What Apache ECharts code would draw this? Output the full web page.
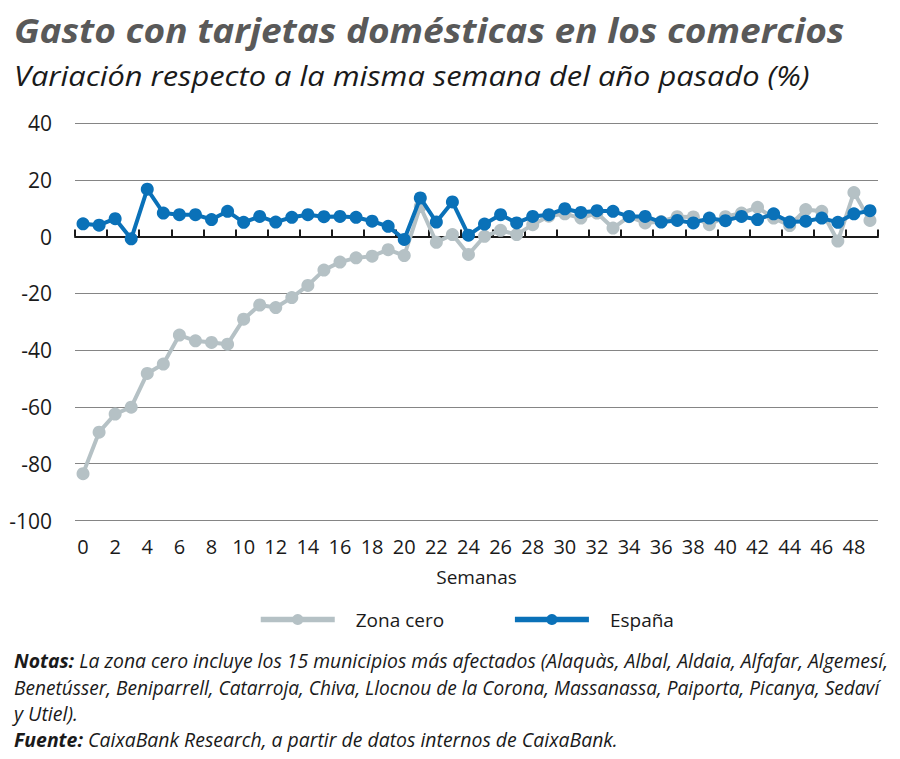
<!DOCTYPE html>
<html>
<head>
<meta charset="utf-8">
<script src="https://cdn.jsdelivr.net/npm/echarts@6/dist/echarts.min.js"></script>
<style>
html,body{margin:0;padding:0;background:#fff;}
#chart{width:900px;height:759px;}
</style>
</head>
<body>
<div id="chart"></div>
<script>
// ---- data ----
const weeks = [];
for (let i = 0; i < 50; i++) weeks.push(String(i));
const zonaCero = [-83.5, -68.9, -62.5, -60.1, -48.2, -44.9, -34.7, -36.7, -37.3, -37.9,
  -29.1, -24.1, -25.0, -21.5, -17.2, -11.8, -9.0, -7.5, -6.9, -4.6,
  -6.7, 10.6, -2.0, 0.7, -6.3, 0.1, 2.2, 0.7, 4.2, 7.2,
  8.0, 6.5, 8.3, 3.0, 7.0, 4.8, 5.3, 7.0, 6.9, 4.2,
  7.0, 8.3, 10.3, 6.5, 3.9, 9.5, 8.9, -1.6, 15.5, 5.7];
const espana = [4.5, 4.0, 6.3, -0.8, 16.7, 8.3, 7.7, 7.7, 6.0, 8.9,
  5.0, 7.1, 5.1, 6.8, 7.7, 7.0, 7.1, 6.8, 5.4, 3.6,
  -1.0, 13.6, 5.1, 12.2, 0.5, 4.4, 7.7, 4.8, 7.1, 7.7,
  9.8, 8.5, 9.1, 8.9, 7.1, 7.1, 5.1, 5.7, 4.8, 6.5,
  5.6, 7.1, 6.0, 8.0, 5.1, 5.4, 6.5, 5.0, 8.0, 9.1];
const seriesNames = ['Zona cero', 'España'];
const titleText = 'Gasto con tarjetas domésticas en los comercios';
const subtitleText = 'Variación respecto a la misma semana del año pasado (%)';
const xAxisName = 'Semanas';
const notes = [
  ['Notas:', 'La zona cero incluye los 15 municipios más afectados (Alaquàs, Albal, Aldaia, Alfafar, Algemesí,'],
  ['', 'Benetússer, Beniparrell, Catarroja, Chiva, Llocnou de la Corona, Massanassa, Paiporta, Picanya, Sedaví'],
  ['', 'y Utiel).'],
  ['Fuente:', 'CaixaBank Research, a partir de datos internos de CaixaBank.']
];

// ---- styling helpers ----
const FF = '"Open Sans", "Noto Sans", sans-serif';
const GRAY = '#b5c1c5';
const BLUE = '#0a71b8';
const cv = document.createElement('canvas').getContext('2d');
function mw(font, text) { cv.font = font; return cv.measureText(text).width; }

function scaledText(text, font, x, y, targetW, fill) {
  const w = mw(font, text);
  return {
    type: 'text', x: x, y: y, scaleX: targetW / w, silent: true,
    style: { text: text, font: font, fill: fill, x: 0, y: 0, verticalAlign: 'middle', align: 'left' }
  };
}

const graphics = [];
graphics.push(scaledText(titleText, 'italic bold 34px ' + FF, 14, 30, 831, '#595959'));
graphics.push(scaledText(subtitleText, 'italic 28px ' + FF, 14, 76, 796, '#1a1a1a'));

const noteFontB = 'italic bold 20px ' + FF;
const noteFont = 'italic 20px ' + FF;
const noteTargets = [874, 866, 64, 604];
const noteY = [660, 687, 713, 739];
notes.forEach((ln, i) => {
  const wb = ln[0] ? mw(noteFontB, ln[0] + ' ') : 0;
  const wr = mw(noteFont, ln[1]);
  const children = [];
  if (ln[0]) children.push({ type: 'text', x: 0, y: 0, style: { text: ln[0], font: noteFontB, fill: '#1a1a1a', verticalAlign: 'middle' } });
  children.push({ type: 'text', x: wb, y: 0, style: { text: ln[1], font: noteFont, fill: '#1a1a1a', verticalAlign: 'middle' } });
  graphics.push({ type: 'group', x: 14, y: noteY[i], scaleX: noteTargets[i] / (wb + wr), silent: true, children: children });
});

const chart = echarts.init(document.getElementById('chart'), null, { renderer: 'svg' });
chart.setOption({
  animation: false,
  backgroundColor: '#fff',
  grid: { left: 75, right: 22, top: 123, bottom: 238.5, containLabel: false },
  legend: {
    data: seriesNames,
    left: 253, top: 605,
    itemWidth: 74, itemHeight: 14, itemGap: 68,
    lineStyle: { width: 5.5 },
    textStyle: { fontFamily: FF, fontSize: 19, color: '#1a1a1a', padding: [0, 0, 0, 16] }
  },
  xAxis: [
    {
      type: 'category', data: weeks, boundaryGap: true,
      axisLine: { onZero: true, lineStyle: { color: '#1a1a1a', width: 2 } },
      axisTick: { show: true, inside: true, length: 7, interval: 1, lineStyle: { color: '#1a1a1a', width: 2 } },
      axisLabel: { show: false }, splitLine: { show: false }
    },
    {
      type: 'category', data: weeks, boundaryGap: true, position: 'bottom',
      axisLine: { show: false, onZero: false }, axisTick: { show: false },
      axisLabel: { interval: 1, fontFamily: FF, fontSize: 20, color: '#1a1a1a', margin: 16 },
      name: xAxisName, nameLocation: 'middle', nameGap: 47,
      nameTextStyle: { fontFamily: FF, fontSize: 19, color: '#1a1a1a' }
    }
  ],
  yAxis: {
    type: 'value', min: -100, max: 40, interval: 20,
    axisLine: { show: false }, axisTick: { show: false },
    axisLabel: { fontFamily: FF, fontSize: 21, color: '#1a1a1a', margin: 23 },
    splitLine: { lineStyle: { color: '#858585', width: 1.2 } }
  },
  series: [
    {
      name: seriesNames[0], type: 'line', data: zonaCero, xAxisIndex: 0,
      symbol: 'circle', symbolSize: 13, showSymbol: true, showAllSymbol: true, z: 3,
      lineStyle: { color: GRAY, width: 4 }, itemStyle: { color: GRAY }
    },
    {
      name: seriesNames[1], type: 'line', data: espana, xAxisIndex: 0,
      symbol: 'circle', symbolSize: 13, showSymbol: true, showAllSymbol: true, z: 4,
      lineStyle: { color: BLUE, width: 4 }, itemStyle: { color: BLUE }
    }
  ],
  graphic: graphics
});
</script>
</body>
</html>
